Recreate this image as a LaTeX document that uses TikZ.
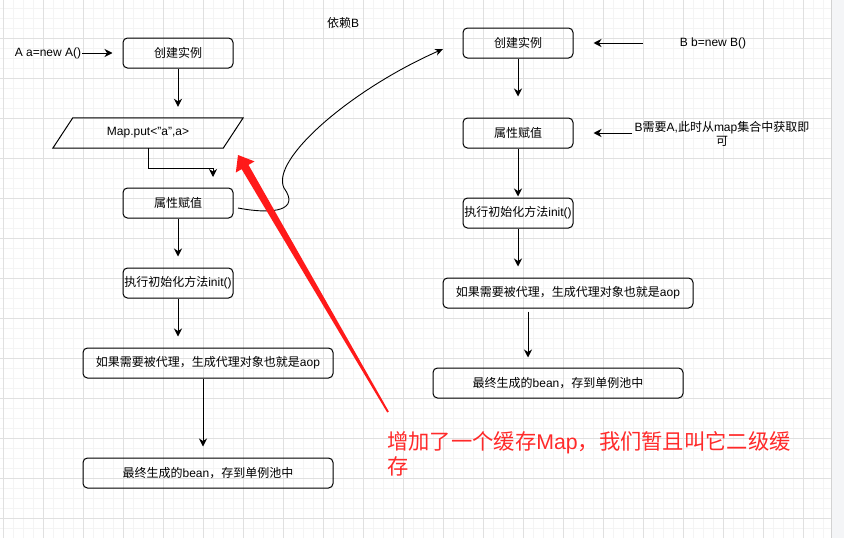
\documentclass[tikz,border=0pt]{standalone}
\usepackage{fontspec}
\setmainfont{Liberation Sans}
\newfontfamily\cjk{Noto Sans CJK SC}
\usetikzlibrary{arrows.meta,calc}
\newcommand\zh[1]{{\cjk #1}}
\definecolor{gridmajor}{HTML}{E0E0E0}
\definecolor{gridminor}{HTML}{F4F4F4}
\definecolor{pane}{HTML}{F4F5F7}
\definecolor{noteink}{HTML}{FF2A2A}
\definecolor{pointer}{HTML}{FF1A1A}

\begin{document}
\begin{tikzpicture}[x=1pt,y=-1pt,
  every node/.style={font=\fontsize{12}{14}\selectfont, inner sep=1pt},
  box/.style={draw, rounded corners=4.5pt, line width=1pt, minimum height=30pt, inner sep=0pt},
  narrow/.style={box, minimum width=110pt},
  wide/.style={box, minimum width=250pt},
  arr/.style={line width=1pt, -{Stealth[length=8pt,width=8pt,inset=2.5pt]}},
  ]
% canvas with grid
\useasboundingbox (0,0) rectangle (844,538);
\fill[white] (0,0) rectangle (831,538);
\foreach \x in {3,13,...,823} \draw[gridminor, line width=0.8pt] (\x,0) -- (\x,538);
\foreach \y in {8,18,...,538} \draw[gridminor, line width=0.8pt] (0,\y) -- (831,\y);
\foreach \x in {3,43,...,803} \draw[gridmajor, line width=0.9pt] (\x,0) -- (\x,538);
\foreach \y in {38,78,...,518} \draw[gridmajor, line width=0.9pt] (0,\y) -- (831,\y);
\fill[pane] (831,0) rectangle (844,538);
\draw[gray!35, line width=0.8pt] (831,0) -- (831,538);

% bean A
\node[narrow] (a1) at (178,53) {\zh{创建实例}};
\node[minimum width=190pt, minimum height=30pt, inner sep=0pt] (map) at (148,133) {Map.put<"a",a>};
\draw[line width=1pt] ($(map.north west)+(20,0)$) -- (map.north east)
  -- ($(map.south east)+(-20,0)$) -- (map.south west) -- cycle;
\node[narrow] (a2) at (178,203) {\zh{属性赋值}};
\node[narrow] (a3) at (178,283) {\zh{执行初始化方法}init()};
\node[wide] (a4) at (208,363) {\zh{如果需要被代理，生成代理对象也就是}aop};
\node[wide] (a5) at (208,473) {\zh{最终生成的}bean\zh{，存到单例池中}};

% bean B
\node[narrow] (b1) at (518,43) {\zh{创建实例}};
\node[narrow] (b2) at (518,133) {\zh{属性赋值}};
\node[narrow] (b3) at (518,213) {\zh{执行初始化方法}init()};
\node[wide] (b4) at (568,293) {\zh{如果需要被代理，生成代理对象也就是}aop};
\node[wide] (b5) at (558,383) {\zh{最终生成的}bean\zh{，存到单例池中}};

% labels
\node (anew) at (48,53) {A a=new A()};
\node (bnew) at (713,43) {B b=new B()};
\node[align=center] (bneed) at (722,134) {B\zh{需要}A,\zh{此时从}map\zh{集合中获取即}\\\zh{可}};
\node (dep) at (343,23) {\zh{依赖}B};

% flow of A
\draw[arr, shorten >=10pt] (anew.east) -- (a1.west);
\draw[arr, shorten >=11pt] (a1.south) -- (a1.south |- map.north);
\coordinate (mapend) at (213,177);
\draw[arr] (map.south) -- ++(0,20) -| (mapend);
\draw[arr, shorten >=11pt] (a2) -- (a3);
\draw[arr, shorten >=11pt] (a3.south) -- (a3.south |- a4.north);
\draw[arr, shorten >=11pt] ([xshift=-5pt]a4.south) -- ([xshift=-5pt]a5.north);

% flow of B
\draw[arr, shorten <=36pt, shorten >=20pt] (bnew.west) -- (b1.east);
\draw[arr, shorten >=21pt] (b1) -- (b2);
\draw[arr, shorten <=1pt, shorten >=20pt] (b2.east -| bneed.west) -- (b2.east);
\draw[arr, shorten >=1pt] (b2) -- (b3);
\draw[arr, shorten >=11pt] (b3.south) -- (b3.south |- b4.north);
\draw[arr, shorten <=3pt, shorten >=10pt] ([xshift=-40pt]b4.south) -- ([xshift=-30pt]b5.north);

% dependency on B
\coordinate (cs) at (238,208);
\coordinate (ce) at (443,49);
\draw[line width=0.9pt, -{Stealth[length=8pt,width=7pt,inset=2.5pt]}]
  (cs) .. controls (275,215) and (300,210) .. (284,188)
       .. controls (270,160) and (350,90) .. (ce);

% red note and pointer
\fill[pointer] (388.8,411.5) -- (248.5,164.9) -- (254.5,161.4) -- (238,155)
  -- (235.8,172.6) -- (241.6,169.1) -- (387.2,412.5) -- cycle;
\node[anchor=west, text=noteink, font=\fontsize{21.3}{25}\selectfont, align=left] (memo) at (386,454)
  {\zh{增加了一个缓存}Map\zh{，我们暂且叫它二级缓}\\\zh{存}};
\end{tikzpicture}
\end{document}
